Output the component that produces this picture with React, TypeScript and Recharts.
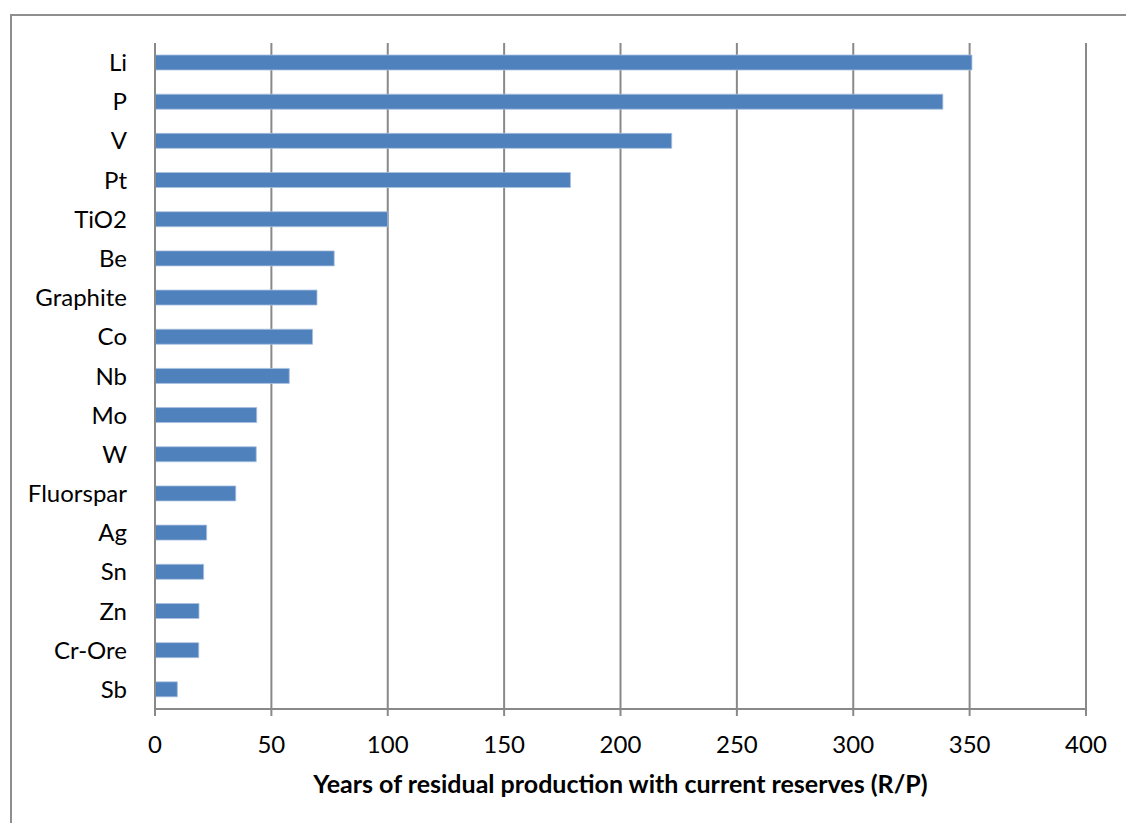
import { BarChart, Bar, XAxis, YAxis, CartesianGrid } from 'recharts'

const minerals = ['Li', 'P', 'V', 'Pt', 'TiO2', 'Be', 'Graphite', 'Co', 'Nb', 'Mo', 'W', 'Fluorspar', 'Ag', 'Sn', 'Zn', 'Cr-Ore', 'Sb']
const years = [351, 338.5, 222, 178.5, 100, 77, 69.6, 67.7, 57.7, 43.7, 43.5, 34.7, 22.2, 20.9, 18.9, 18.8, 9.6]
const xTicks = [0, 50, 100, 150, 200, 250, 300, 350, 400]

const data = minerals.map((name, i) => ({ name, years: years[i] }))

const gray = '#898989'
const font = 'Lato, "Open Sans", sans-serif'

export default function App() {
  return (
    <div style={{ position: 'fixed', left: 0, top: 0, width: 1126, height: 823, overflow: 'hidden', background: '#fff' }}>
      <div
        style={{
          position: 'absolute',
          left: 10,
          top: 14,
          width: 1300,
          height: 1000,
          border: '2px solid #8e8e8e',
        }}
      />
      <div style={{ position: 'absolute', left: 0, top: 0 }}>
        <BarChart
          width={1126}
          height={823}
          data={data}
          layout="vertical"
          margin={{ top: 43, right: 40, bottom: 54, left: 0 }}
          barSize={15}
        >
          <CartesianGrid horizontal={false} vertical={true} stroke={gray} strokeWidth={2} />
          <XAxis
            type="number"
            domain={[0, 400]}
            ticks={xTicks}
            interval={0}
            height={60}
            axisLine={{ stroke: gray, strokeWidth: 2 }}
            tickLine={{ stroke: gray, strokeWidth: 2 }}
            tickSize={7}
            tickMargin={20}
            tick={{ fontSize: 24, fill: '#000', fontFamily: font }}
            label={{
              value: 'Years of residual production with current reserves (R/P)',
              position: 'bottom',
              offset: 6,
              style: { fontSize: 25, fontWeight: 700, fill: '#000', fontFamily: font },
            }}
          />
          <YAxis
            type="category"
            dataKey="name"
            width={155}
            interval={0}
            axisLine={{ stroke: gray, strokeWidth: 2 }}
            tickLine={false}
            tickSize={6}
            tickMargin={22}
            tick={{ fontSize: 24, fill: '#000', fontFamily: font }}
          />
          <Bar dataKey="years" fill="#4F81BD" stroke="#a9c0e0" strokeWidth={0.8} isAnimationActive={false} />
        </BarChart>
      </div>
    </div>
  )
}
